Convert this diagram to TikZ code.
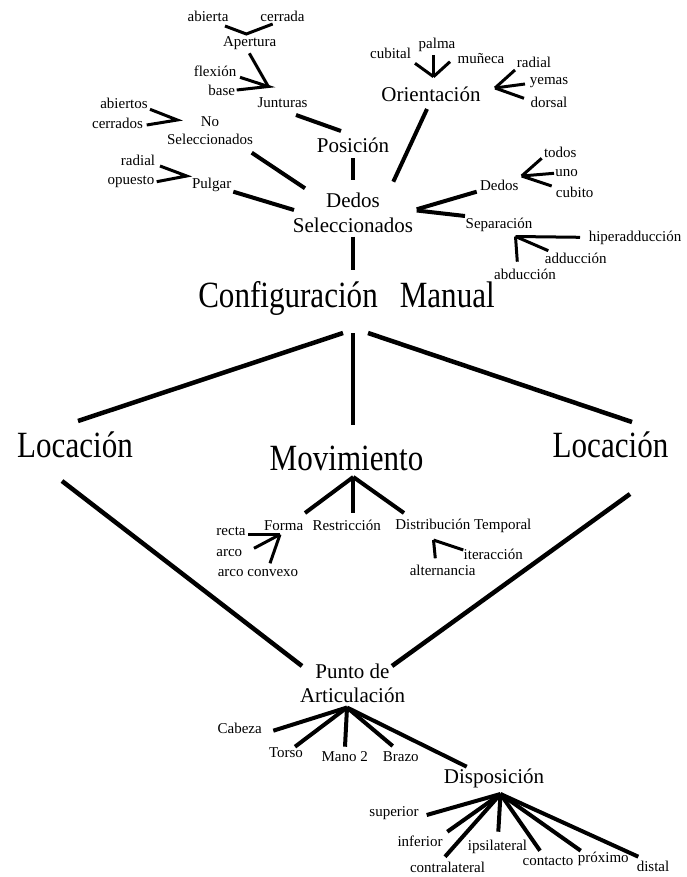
\documentclass[tikz,border=0pt]{standalone}
\usepackage{fontspec}
\setmainfont{Liberation Serif}
\newfontfamily\bigcond[FakeStretch=0.84]{Liberation Serif}
\begin{document}
\begin{tikzpicture}[x=1pt,y=-1pt,
  sm/.style={font=\fontsize{15}{17.6}\selectfont, inner sep=0pt, align=center},
  md/.style={font=\fontsize{21}{24}\selectfont, inner sep=0pt, align=center},
  bg/.style={font=\bigcond\fontsize{37}{40}\selectfont, inner sep=0pt},
  thinln/.style={line width=3pt},
  thickln/.style={line width=4pt},
  bigln/.style={line width=4.5pt}]
\useasboundingbox (0,0) rectangle (687,877);
% ---------- top cluster nodes
\node[sm] (abierta) at (208,16) {abierta};
\node[sm] (cerrada) at (282.5,16) {cerrada};
\node[sm] (apertura) at (249.7,43) {Apertura};
\node[sm] (flexion) at (215,71) {flexión};
\node[sm] (base) at (221.7,90.7) {base};
\node[sm] (junturas) at (282.5,102.7) {Junturas};
\node[md] (posicion) at (353,145) {Posición};
\node[sm] (abiertos) at (124,103.3) {abiertos};
\node[sm] (cerrados) at (117.5,123.3) {cerrados};
\node[sm, font=\fontsize{15}{17.6}\selectfont] (nosel) at (210,130.5) {No\\Seleccionados};
\node[sm] (radialL) at (138,160) {radial};
\node[sm] (opuesto) at (131,181.7) {opuesto};
\node[sm] (pulgar) at (211.7,185) {Pulgar};
\node[md, font=\fontsize{21}{25}\selectfont] (dedossel) at (353,212.5) {Dedos\\Seleccionados};
\node[md] (orient) at (431,94) {Orientación};
\node[sm] (cubital) at (390.5,53.3) {cubital};
\node[sm] (palma) at (437,45) {palma};
\node[sm] (muneca) at (481,58.3) {muñeca};
\node[sm] (radialR) at (534,62.7) {radial};
\node[sm] (yemas) at (549,82.3) {yemas};
\node[sm] (dorsal) at (549,102.3) {dorsal};
\node[sm] (dedos) at (499.3,185) {Dedos};
\node[sm] (todos) at (560.3,152.7) {todos};
\node[sm] (uno) at (566.7,173.3) {uno};
\node[sm] (cubito) at (574.7,192.7) {cubito};
\node[sm] (separ) at (499,225) {Separación};
\node[sm] (hiper) at (635,238.3) {hiperadducción};
\node[sm] (adduc) at (575.8,258.3) {adducción};
\node[sm] (abduc) at (525,274) {abducción};
% ---------- main nodes
\node[bg] (config) at (346.5,298) {Configuración\hspace{22pt}Manual};
\node[bg] (locL) at (75,445) {Locación};
\node[bg] (mov) at (346.5,458) {Movimiento};
\node[bg] (locR) at (610.5,445) {Locación};
\node[sm] (forma) at (283.7,525.7) {Forma};
\node[sm] (restr) at (346.7,525.7) {Restricción};
\node[sm] (dist) at (463.3,525.7) {Distribución Temporal};
\node[sm] (recta) at (231,531) {recta};
\node[sm] (arco) at (229.3,552.7) {arco};
\node[sm] (arcoc) at (258,573.3) {arco convexo};
\node[sm] (altern) at (442.7,570) {alternancia};
\node[sm] (iterac) at (493.3,554.3) {iteracción};
\node[md, font=\fontsize{21}{23.3}\selectfont] (punto) at (352.5,683.3) {Punto de\\Articulación};
\node[sm] (cabeza) at (239.7,728.3) {Cabeza};
\node[sm] (torso) at (286,752.7) {Torso};
\node[sm] (mano) at (344.7,756.7) {Mano 2};
\node[sm] (brazo) at (400.8,756.7) {Brazo};
\node[md] (disp) at (494,778.3) {Disposición};
\node[sm] (superior) at (394,813.3) {superior};
\node[sm] (inferior) at (420,841.7) {inferior};
\node[sm] (contral) at (447.5,867.3) {contralateral};
\node[sm] (ipsil) at (497.5,847.3) {ipsilateral};
\node[sm] (contacto) at (548,861.7) {contacto};
\node[sm] (proximo) at (603.3,859.3) {próximo};
\node[sm] (distal) at (653,866.7) {distal};
% ---------- coordinates (junctions and line ends)
\coordinate (jAp) at (246.3,34);
\coordinate (abierta-e) at (225,26);
\coordinate (cerrada-e) at (272.7,24);
\coordinate (jJu) at (268.3,86.5);
\coordinate (apertura-e) at (249.3,53.3);
\coordinate (flexion-e) at (240,77.3);
\coordinate (base-e) at (236.7,90);
\coordinate (junturas-e) at (296,115);
\coordinate (posicion-t) at (341,131);
\coordinate (jNo) at (177.3,120);
\coordinate (abiertos-e) at (150,109.3);
\coordinate (cerrados-e) at (146.7,125);
\coordinate (nosel-e) at (251.7,152.7);
\coordinate (dedossel-nw) at (305,188.3);
\coordinate (jPu) at (186.7,176);
\coordinate (radialL-e) at (160,166);
\coordinate (opuesto-e) at (156.7,181.7);
\coordinate (pulgar-e) at (233.3,191.7);
\coordinate (dedossel-w) at (294,210);
\coordinate (posicion-b) at (352.7,158.3);
\coordinate (dedossel-t) at (352.7,180);
\coordinate (orient-b) at (427,109);
\coordinate (dedossel-ne) at (393.3,181.7);
\coordinate (dedossel-b) at (352.7,236.7);
\coordinate (config-t) at (352.7,270);
\coordinate (dedossel-e1) at (416.7,209.3);
\coordinate (dedossel-e2) at (416.7,210.5);
\coordinate (dedos-w) at (476.7,191.7);
\coordinate (separ-w) at (465,216);
\coordinate (jDe) at (521.7,176);
\coordinate (todos-e) at (541.7,158.3);
\coordinate (uno-e) at (554,173.3);
\coordinate (cubito-e) at (551.7,186);
\coordinate (jSe) at (515.5,236.5);
\coordinate (hiper-e) at (580,237.3);
\coordinate (adduc-e) at (548.3,250.7);
\coordinate (abduc-e) at (517.3,261.7);
\coordinate (jOr) at (433.5,76.7);
\coordinate (cubital-e) at (415,63.3);
\coordinate (palma-e) at (433.5,55);
\coordinate (muneca-e) at (450,61.7);
\coordinate (jOr2) at (495,88);
\coordinate (radialR-e) at (515,70);
\coordinate (yemas-e) at (525,84);
\coordinate (dorsal-e) at (524,98.3);
% middle
\coordinate (config-bl) at (343,333);
\coordinate (config-b) at (353,333);
\coordinate (config-br) at (368,333);
\coordinate (locL-t) at (78,421);
\coordinate (mov-t) at (353,425);
\coordinate (locR-t) at (632,422);
\coordinate (locL-b) at (62,481);
\coordinate (punto-l) at (302,666);
\coordinate (locR-b) at (630,494);
\coordinate (punto-r) at (392,666);
\coordinate (mov-b) at (353.3,477);
\coordinate (forma-t) at (305,513);
\coordinate (restr-t) at (353.3,513);
\coordinate (dist-t) at (404,513);
\coordinate (jFo) at (280,534.5);
\coordinate (recta-e) at (248.3,534.5);
\coordinate (arco-e) at (254,548.3);
\coordinate (arcoc-e) at (270,563.3);
\coordinate (jDi) at (433.5,540);
\coordinate (altern-e) at (435.3,558.3);
\coordinate (iterac-e) at (463.3,550);
% bottom
\coordinate (jPa) at (347,707.5);
\coordinate (cabeza-e) at (273.3,730.7);
\coordinate (torso-e) at (295,746.7);
\coordinate (mano-e) at (345,746.7);
\coordinate (brazo-e) at (392.7,746);
\coordinate (disp-e) at (466.7,766.7);
\coordinate (jDs) at (500.5,794);
\coordinate (superior-e) at (426.7,815);
\coordinate (inferior-e) at (447.3,831.7);
\coordinate (contral-e) at (445,856.7);
\coordinate (ipsil-e) at (498.3,831.7);
\coordinate (contacto-e) at (540,850.7);
\coordinate (proximo-e) at (580.7,850.7);
\coordinate (distal-e) at (638.3,856.7);
% ---------- connectors
\draw[thinln] (abierta-e) -- (jAp) -- (cerrada-e);
\draw[thinln] (apertura-e) -- (jJu);
\draw[thinln] (flexion-e) -- (jJu) -- (base-e);
\draw[thickln] (junturas-e) -- (posicion-t);
\draw[thinln] (abiertos-e) -- (jNo) -- (cerrados-e);
\draw[thickln] (nosel-e) -- (dedossel-nw);
\draw[thinln] (radialL-e) -- (jPu) -- (opuesto-e);
\draw[thickln] (pulgar-e) -- (dedossel-w);
\draw[thickln] (posicion-b) -- (dedossel-t);
\draw[thickln] (orient-b) -- (dedossel-ne);
\draw[thickln] (dedossel-b) -- (config-t);
\draw[thickln] (dedos-w) -- (dedossel-e1);
\draw[thickln] (dedossel-e2) -- (separ-w);
\draw[thinln] (todos-e) -- (jDe);
\draw[thinln] (uno-e) -- (jDe);
\draw[thinln] (cubito-e) -- (jDe);
\draw[thinln] (hiper-e) -- (jSe);
\draw[thinln] (adduc-e) -- (jSe);
\draw[thinln] (abduc-e) -- (jSe);
\draw[thinln] (cubital-e) -- (jOr);
\draw[thinln] (palma-e) -- (jOr);
\draw[thinln] (muneca-e) -- (jOr);
\draw[thinln] (radialR-e) -- (jOr2);
\draw[thinln] (yemas-e) -- (jOr2);
\draw[thinln] (dorsal-e) -- (jOr2);
\draw[bigln] (config-bl) -- (locL-t);
\draw[bigln] (config-b) -- (mov-t);
\draw[bigln] (config-br) -- (locR-t);
\draw[bigln] (locL-b) -- (punto-l);
\draw[bigln] (locR-b) -- (punto-r);
\draw[thickln] (mov-b) -- (forma-t);
\draw[thickln] (mov-b) -- (restr-t);
\draw[thickln] (mov-b) -- (dist-t);
\draw[thinln] (recta-e) -- (jFo);
\draw[thinln] (arco-e) -- (jFo);
\draw[thinln] (arcoc-e) -- (jFo);
\draw[thinln] (altern-e) -- (jDi);
\draw[thinln] (iterac-e) -- (jDi);
\draw[thickln] (cabeza-e) -- (jPa);
\draw[thickln] (torso-e) -- (jPa);
\draw[thickln] (mano-e) -- (jPa);
\draw[thickln] (brazo-e) -- (jPa);
\draw[thickln] (disp-e) -- (jPa);
\draw[thickln] (superior-e) -- (jDs);
\draw[thickln] (inferior-e) -- (jDs);
\draw[thickln] (contral-e) -- (jDs);
\draw[thickln] (ipsil-e) -- (jDs);
\draw[thickln] (contacto-e) -- (jDs);
\draw[thickln] (proximo-e) -- (jDs);
\draw[thickln] (distal-e) -- (jDs);
\end{tikzpicture}
\end{document}
